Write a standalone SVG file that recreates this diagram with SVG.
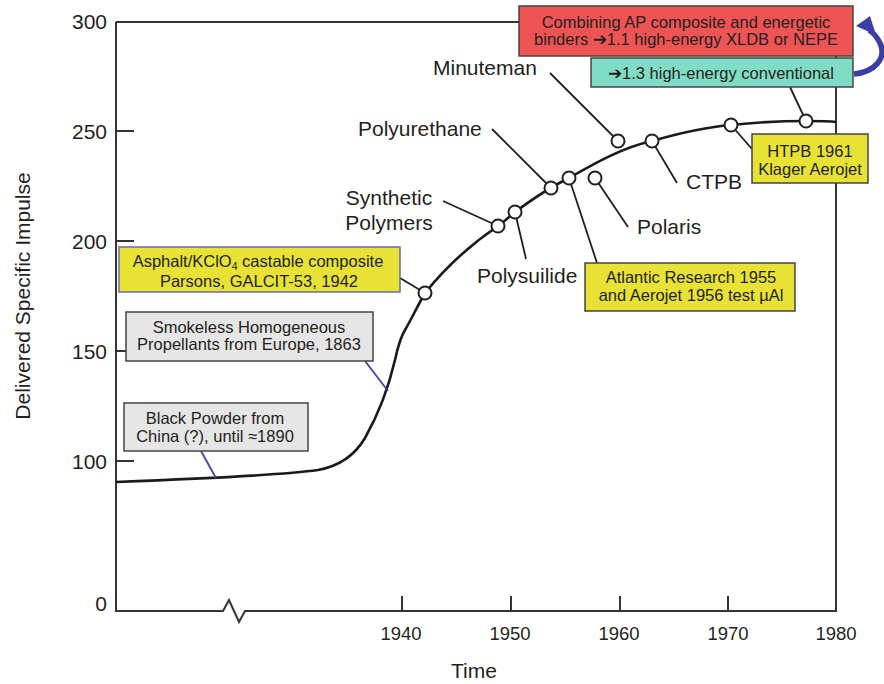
<svg xmlns="http://www.w3.org/2000/svg" width="884" height="684" viewBox="0 0 884 684">
<style>
text{font-family:"Liberation Sans",Arial,Helvetica,sans-serif;fill:#231f20}
.lbl{font-size:21px}
.ax{font-size:21px;text-anchor:end}
.yr{font-size:18.5px;text-anchor:middle}
.bx{font-size:16.5px;text-anchor:middle}
.frame{stroke:#333;stroke-width:2;fill:none}
.lead{stroke:#231f20;stroke-width:1.8;fill:none}
.blead{stroke:#4141a8;stroke-width:1.8;fill:none}
.dot{fill:#fff;stroke:#231f20;stroke-width:2}
.yel{fill:#e8e234;stroke:#444;stroke-width:1.5}
.gry{fill:#e6e6e6;stroke:#444;stroke-width:1.5}
</style>
<rect width="884" height="684" fill="#fff"/>
<g id="axes">
<polyline class="frame" points="116,22 116,611 223,611 229,600 239,622 245,611 836,611 836,56"/>
<line class="frame" x1="116" y1="22" x2="836" y2="22"/>
<path class="frame" d="M116,131H134M116,241H134M116,351H134M116,461H134M402,596V611M511,596V611M620,596V611M728,596V611"/>
<text class="ax" x="107" y="29">300</text>
<text class="ax" x="107" y="139">250</text>
<text class="ax" x="107" y="249">200</text>
<text class="ax" x="107" y="359">150</text>
<text class="ax" x="107" y="469">100</text>
<text class="ax" x="107" y="611">0</text>
<text class="yr" x="401" y="640">1940</text>
<text class="yr" x="510" y="640">1950</text>
<text class="yr" x="619" y="640">1960</text>
<text class="yr" x="728" y="640">1970</text>
<text class="yr" x="836" y="640">1980</text>
<text x="474" y="678" font-size="21" text-anchor="middle">Time</text>
<text x="30" y="296" font-size="21" text-anchor="middle" transform="rotate(-90 30 296)">Delivered Specific Impulse</text>
</g>
<g id="curve">
<path d="M116,482 C220,478 290,474 318,470 C340,466 355,455 365,438 C378,415 388,390 395,360 C398,346 400,338 405,330 C412,318 418,305 425,293 C445,268 470,245 498,226 C505,221 510,216 515,212 C530,201 540,194 551,188 C557,184 563,181 569,178 C590,166 620,148 652,141 C680,133 705,127 731,125 C760,122 790,121 806,121 C818,121 828,121 836,122" fill="none" stroke="#1a1a1a" stroke-width="2.6"/>
</g>
<g id="connectors">
<line class="lead" x1="400" y1="278" x2="425" y2="293"/>
<line class="lead" x1="443" y1="201" x2="498" y2="226"/>
<line class="lead" x1="526" y1="259" x2="515" y2="212"/>
<line class="lead" x1="492" y1="129" x2="551" y2="188"/>
<line class="lead" x1="597" y1="263" x2="569" y2="178"/>
<line class="lead" x1="550" y1="73" x2="618" y2="141"/>
<line class="lead" x1="628" y1="227" x2="595" y2="178"/>
<line class="lead" x1="677" y1="183" x2="652" y2="141"/>
<line class="lead" x1="752" y1="149" x2="731" y2="125"/>
<line class="lead" x1="790" y1="87" x2="806" y2="121"/>
<line class="blead" x1="365" y1="361" x2="388" y2="391"/>
<line class="blead" x1="201" y1="451" x2="216" y2="478"/>
<path d="M854,74 C875,72 887,58 880,43 C877,37 874,33 869,30" fill="none" stroke="#3b3fa3" stroke-width="5.5"/>
<polygon points="856,26 870,16 876,35" fill="#3b3fa3"/>
</g>
<g id="points">
<circle class="dot" cx="425" cy="293" r="6.5"/>
<circle class="dot" cx="498" cy="226" r="6.5"/>
<circle class="dot" cx="515" cy="212" r="6.5"/>
<circle class="dot" cx="551" cy="188" r="6.5"/>
<circle class="dot" cx="569" cy="178" r="6.5"/>
<circle class="dot" cx="618" cy="141" r="6.5"/>
<circle class="dot" cx="595" cy="178" r="6.5"/>
<circle class="dot" cx="652" cy="141" r="6.5"/>
<circle class="dot" cx="731" cy="125" r="6.5"/>
<circle class="dot" cx="806" cy="121" r="6.5"/>
</g>
<g id="xldb">
<rect x="519" y="6" width="334" height="50" fill="#ee5454" stroke="#444" stroke-width="1.5"/>
<text class="bx" x="686" y="28">Combining AP composite and energetic</text>
<text class="bx" x="686" y="45">binders ➔1.1 high-energy XLDB or NEPE</text>
</g>
<g id="conventional">
<rect x="591" y="58" width="262" height="29" fill="#80ddc5" stroke="#444" stroke-width="1.5"/>
<text class="bx" x="721" y="79">➔1.3 high-energy conventional</text>
</g>
<g id="asphalt">
<rect x="119" y="247" width="281" height="45" fill="#e8e234" stroke="#6a6aa8" stroke-width="1.5"/>
<text class="bx" x="258" y="267">Asphalt/KClO<tspan font-size="10.5" dy="3">4</tspan><tspan dy="-3"> castable composite</tspan></text>
<text class="bx" x="259" y="287" font-size="15.5">Parsons, GALCIT-53, 1942</text>
</g>
<g id="smokeless">
<rect x="126" y="312" width="247" height="49" class="gry"/>
<text class="bx" x="249" y="333">Smokeless Homogeneous</text>
<text class="bx" x="249" y="350">Propellants from Europe, 1863</text>
</g>
<g id="blackpowder">
<rect x="124" y="403" width="184" height="48" class="gry"/>
<text class="bx" x="215" y="424">Black Powder from</text>
<text class="bx" x="215" y="442">China (?), until ≈1890</text>
</g>
<g id="atlantic">
<rect x="585" y="263" width="210" height="48" class="yel"/>
<text class="bx" x="691" y="283">Atlantic Research 1955</text>
<text class="bx" x="691" y="301">and Aerojet 1956 test µAl</text>
</g>
<g id="htpb">
<rect x="752" y="134" width="116" height="49" class="yel"/>
<text class="bx" x="810" y="157">HTPB 1961</text>
<text class="bx" x="810" y="175">Klager Aerojet</text>
</g>
<g id="minuteman"><text class="lbl" x="433" y="75">Minuteman</text></g>
<g id="polyurethane"><text class="lbl" x="358" y="136">Polyurethane</text></g>
<g id="synthetic">
<text class="lbl" x="389" y="205" text-anchor="middle">Synthetic</text>
<text class="lbl" x="389" y="230" text-anchor="middle">Polymers</text>
</g>
<g id="polysulfide"><text class="lbl" x="477" y="283">Polysuilide</text></g>
<g id="polaris"><text class="lbl" x="637" y="234">Polaris</text></g>
<g id="ctpb"><text class="lbl" x="686" y="189">CTPB</text></g>
</svg>
